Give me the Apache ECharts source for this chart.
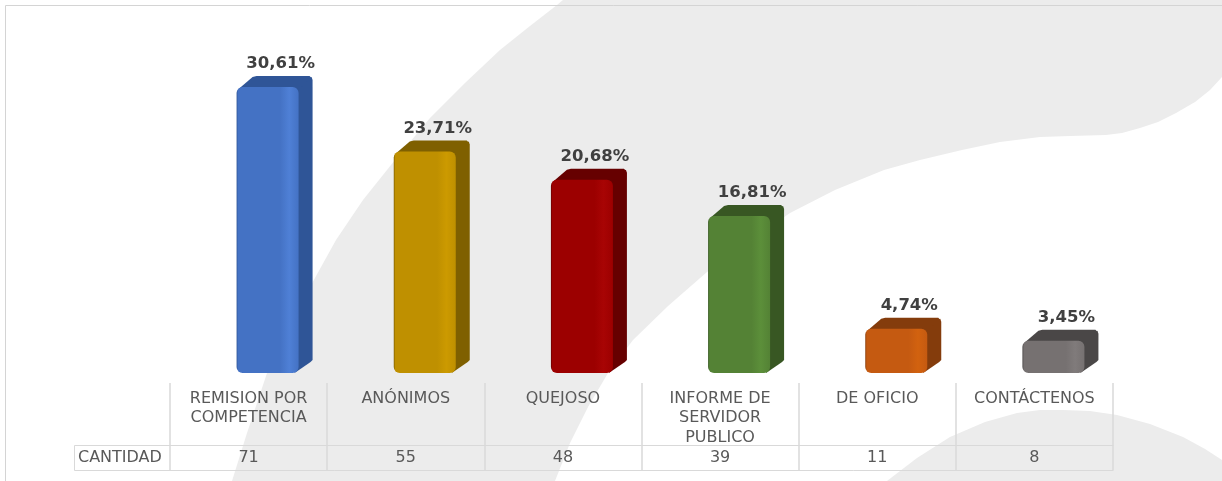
<!DOCTYPE html>
<html>
<head>
<meta charset="utf-8">
<style>html,body{margin:0;padding:0;background:#fff}#chart{width:1222px;height:481px}</style>
<script src="https://cdn.jsdelivr.net/npm/echarts@6/dist/echarts.min.js"></script>
</head>
<body>
<div id="chart"></div>
<script>
const categorias = ['REMISION POR\nCOMPETENCIA', 'ANÓNIMOS', 'QUEJOSO', 'INFORME DE\nSERVIDOR\nPUBLICO', 'DE OFICIO', 'CONTÁCTENOS'];
const cantidad = [71, 55, 48, 39, 11, 8];
const porcentajes = [30.61, 23.71, 20.68, 16.81, 4.74, 3.45];
const frente = ['#4472c4', '#bf9000', '#9c0000', '#548235', '#c55a11', '#767171'];
const brillo = ['#4f80d6', '#cc9a00', '#a80404', '#5c8f3a', '#d2620f', '#807b7b'];
const lado = ['#2f5597', '#7f6000', '#660000', '#385723', '#843c0c', '#4a4747'];

// fondo: trazos leidos a ojo de la imagen
const fondoBanda = [[232, 481], [247, 433], [267, 373], [300, 305], [336, 240], [363, 200], [395, 160], [430, 118], [465, 83], [500, 50], [530, 26], [557, 5], [563, 0], [1222, 0], [1222, 77], [1210, 90], [1195, 102], [1176, 113], [1158, 122], [1140, 128], [1122, 133], [1106, 135], [1070, 136], [1040, 137], [1000, 142], [962, 150], [920, 160], [884, 170], [835, 190], [790, 213], [750, 240], [707, 272], [668, 306], [633, 340], [608, 373], [588, 407], [570, 443], [555, 481]];
const fondoCirculo = [[887, 481], [917, 458], [950, 437], [985, 422], [1017, 413], [1040, 410], [1063, 410], [1090, 411], [1117, 415], [1150, 424], [1183, 437], [1205, 449], [1222, 460], [1222, 481]];

function barra3d(params, api) {
    const i = api.value(0);
    const base = api.coord([i, 0]);
    const tope = api.coord([i, api.value(1)]);
    const x = base[0] - 12, w = 62, dx = 14, dy = 11, r = 6;
    const y0 = tope[1], y1 = base[1];
    const grad = new echarts.graphic.LinearGradient(0, 0, 1, 0, [
        { offset: 0, color: lado[i] },
        { offset: 0.025, color: frente[i] },
        { offset: 0.7, color: frente[i] },
        { offset: 0.85, color: brillo[i] },
        { offset: 1, color: frente[i] }
    ]);
    return {
        type: 'group',
        children: [
            { type: 'polygon', shape: { points: [[x + w - 4, y0], [x + w + dx - 1, y0 - dy + 1], [x + w + dx, y0 - dy + 4], [x + w + dx, y1 - dy - 2], [x + w + dx - 2, y1 - dy], [x + w - 4, y1]] }, style: { fill: lado[i] } },
            { type: 'polygon', shape: { points: [[x + 2, y0 + 2], [x + 16, y0 - dy + 1], [x + 20, y0 - dy], [x + w + dx - 3, y0 - dy], [x + w + dx - 1, y0 - dy + 2], [x + w, y0 + 2]] }, style: { fill: lado[i] } },
            { type: 'rect', shape: { x: x, y: y0, width: w, height: y1 - y0, r: r }, style: { fill: grad } },
            {
                type: 'text',
                style: {
                    x: x + 44, y: y0 - 23,
                    text: api.value(1).toFixed(2).replace('.', ',') + '%',
                    fill: '#404040',
                    font: 'bold 16.5px "DejaVu Sans"',
                    align: 'center', verticalAlign: 'middle'
                }
            }
        ]
    };
}

const chart = echarts.init(document.getElementById('chart'));
const gris = '#ececec', linea = '#d9d9d9';
chart.setOption({
    animation: false,
    backgroundColor: '#fff',
    grid: { left: 170, right: 109, top: 46, bottom: 108 },
    xAxis: [{
        type: 'category',
        data: categorias,
        position: 'bottom',
        offset: 10,
        axisLine: { show: false, onZero: false },
        axisTick: { show: true, length: 62, lineStyle: { color: linea, width: 1.5 } },
        axisLabel: { color: '#595959', fontFamily: 'DejaVu Sans', fontSize: 16, lineHeight: 19.5, margin: 6, verticalAlign: 'top', interval: 0 }
    }, {
        type: 'category',
        data: cantidad,
        position: 'bottom',
        offset: 72,
        axisLine: { show: true, onZero: false, lineStyle: { color: linea, width: 1 } },
        axisTick: { show: true, length: 25, lineStyle: { color: linea, width: 1.5 } },
        axisLabel: { color: '#595959', fontFamily: 'DejaVu Sans', fontSize: 16, margin: 5, verticalAlign: 'top', interval: 0 }
    }],
    yAxis: { type: 'value', min: 0, max: 35, show: false },
    series: [{
        type: 'custom',
        xAxisIndex: 0,
        renderItem: barra3d,
        encode: { x: 0, y: 1 },
        data: porcentajes.map((v, i) => [i, v]),
        clip: false,
        z: 5
    }],
    graphic: [
        { type: 'polyline', silent: true, z: -8, shape: { points: [[5.5, 481], [5.5, 5.5], [1222, 5.5]] }, style: { stroke: '#d4d4d4', lineWidth: 1, fill: null } },
        { type: 'polygon', silent: true, z: -9, shape: { points: fondoBanda }, style: { fill: gris } },
        { type: 'polygon', silent: true, z: -9, shape: { points: fondoCirculo }, style: { fill: gris } },
        { type: 'polyline', silent: true, z: 1, shape: { points: [[74.5, 445.5], [170.5, 445.5]] }, style: { stroke: linea, fill: null } },
        { type: 'polyline', silent: true, z: 1, shape: { points: [[74.5, 445.5], [74.5, 470.5], [1113.5, 470.5]] }, style: { stroke: linea, fill: null } },
        { type: 'text', silent: true, z: 2, style: { x: 78, y: 458, text: 'CANTIDAD', fill: '#595959', font: '16px "DejaVu Sans"', verticalAlign: 'middle' } }
    ]
});
</script>
</body>
</html>
